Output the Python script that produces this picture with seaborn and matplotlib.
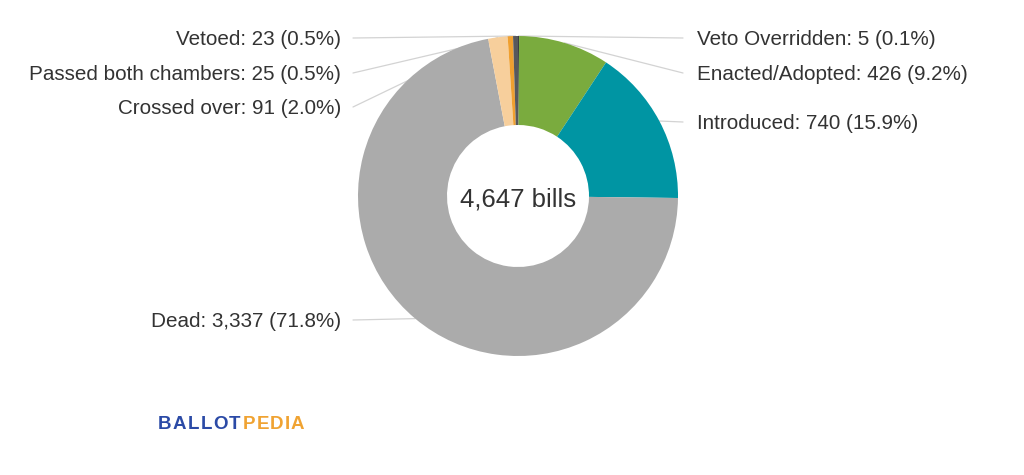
import numpy as np
import pandas as pd
import seaborn as sns
import matplotlib.pyplot as plt
from matplotlib.textpath import TextPath
from matplotlib.font_manager import FontProperties

# bill status counts, in drawing order (clockwise from the top)
statuses = ["Veto Overridden", "Enacted/Adopted", "Introduced", "Dead",
            "Crossed over", "Passed both chambers", "Vetoed"]
counts = [5, 426, 740, 3337, 91, 25, 23]
percents = ["0.1%", "9.2%", "15.9%", "71.8%", "2.0%", "0.5%", "0.5%"]
colors = ["#3d3d40", "#7aab3e", "#0095a3", "#ababab", "#f7cf9c", "#f0a030", "#58585c"]

df = pd.DataFrame({"status": statuses, "count": counts, "pct": percents})

sns.set_theme(style="white")
plt.rcParams["font.family"] = ["Liberation Sans", "DejaVu Sans"]

W, H = 1024, 475
fig = plt.figure(figsize=(W / 100, H / 100), dpi=100)
ax = fig.add_axes([0, 0, 1, 1])

cx, cy, R, r_in = 518, 196, 160, 71
def sy(y):
    return H - y

ax.pie(df["count"], colors=colors, startangle=90, counterclock=False,
       radius=R, center=(cx, sy(cy)),
       wedgeprops=dict(width=R - r_in, linewidth=0))

ax.set_xlim(0, W)
ax.set_ylim(0, H)
ax.set_aspect("equal")
ax.axis("off")

# label positions (screen y) and sides
label_y = [38, 73, 122, 320, 107, 73, 38]
side = [1, 1, 1, -1, -1, -1, -1]

cum = np.cumsum([0] + counts)
total = cum[-1]
for i, row in df.iterrows():
    mid = (cum[i] + cum[i + 1]) / 2 / total * 2 * np.pi
    px = cx + R * np.sin(mid)
    py = cy - R * np.cos(mid)
    ly = label_y[i]
    if side[i] > 0:
        ex, tx, ha = 683, 697, "left"
    else:
        ex, tx, ha = 353, 341, "right"
    ax.plot([px, ex], [sy(py), sy(ly)], color="#d3d3d3", lw=0.9, zorder=0)
    ax.text(tx, sy(ly + 1.5), f"{row['status']}: {row['count']:,} ({row['pct']})",
            ha=ha, va="center", fontsize=14.9, color="#333333")

ax.text(cx, sy(cy + 3), f"{total:,} bills", ha="center", va="center",
        fontsize=18.5, color="#333333")

# logo, letter-spaced using glyph advances
fp = FontProperties(family="Liberation Sans", weight="bold", size=13.5)
px_per_pt = 100 / 72
logo = [("BALLOT", "#2b4aa6"), ("PEDIA", "#f0a332")]
x = 158
for word, col in logo:
    for ch in word:
        ax.text(x, sy(424.5), ch, ha="left", va="center", fontproperties=fp, color=col)
        adv = TextPath((0, 0), ch + "|", prop=fp).get_extents().width \
            - TextPath((0, 0), "|", prop=fp).get_extents().width
        x += adv * px_per_pt + 0.9

fig.savefig("out.png", dpi=100)
